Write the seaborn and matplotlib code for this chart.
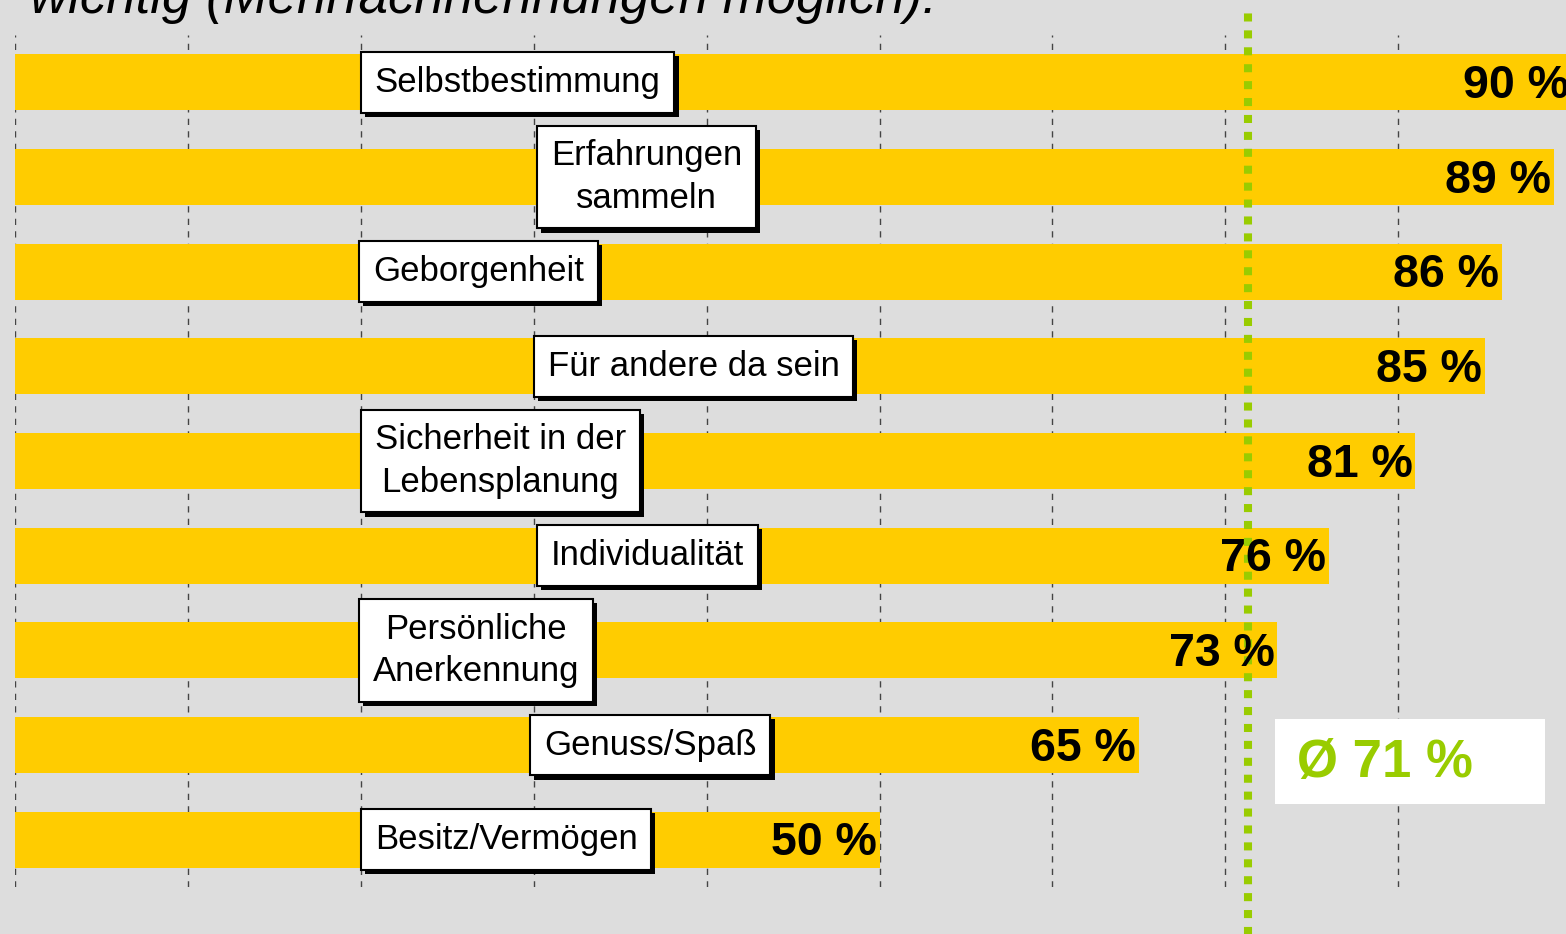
import matplotlib
matplotlib.use("Agg")
import matplotlib.pyplot as plt
import matplotlib.patheffects as pe
from matplotlib.patches import Rectangle
import seaborn as sns
import pandas as pd

# Data
categories = ["Selbstbestimmung", "Erfahrungen\nsammeln", "Geborgenheit",
              "Für andere da sein", "Sicherheit in der\nLebensplanung",
              "Individualität", "Persönliche\nAnerkennung", "Genuss/Spaß",
              "Besitz/Vermögen"]
values = [90, 89, 86, 85, 81, 76, 73, 65, 50]
label_x = [20, 30.2, 19.9, 30, 20, 30.2, 19.9, 29.8, 20]
avg_label = "Ø 71 %"
avg_line = 71.3
title_text = "wichtig (Mehrfachnennungen möglich):"

df = pd.DataFrame({"cat": categories, "val": values})

sns.set_style("white")
plt.rcParams["font.family"] = ["Liberation Sans", "DejaVu Sans"]

bg = "#DDDDDD"
fig = plt.figure(figsize=(15.66, 9.34), dpi=100, facecolor=bg)
ax = fig.add_axes([15 / 1566, 1 - 887 / 934, 1 - 15 / 1566, 852 / 934])
ax.set_facecolor(bg)

sns.barplot(data=df, x="val", y="cat", orient="h", color="#FFCC00",
            saturation=1, width=0.59, linewidth=0, edgecolor="none",
            ax=ax, zorder=2)

ax.set_xlim(0, (1566 - 15) / 17.29)
ax.set_ylim(len(categories) - 0.5, -0.5)
ax.set_xticks(range(0, 90, 10))
ax.grid(axis="x", color="#444444", linestyle=(0, (4.5, 4.5)), linewidth=1.0, zorder=0)
ax.grid(axis="y", visible=False)
ax.set_axisbelow(True)
ax.set_xlabel("")
ax.set_ylabel("")
ax.set_xticklabels([])
ax.set_yticklabels([])
ax.tick_params(left=False, bottom=False)
for s in ax.spines.values():
    s.set_visible(False)

# value labels at the bar ends
for i, v in enumerate(values):
    ax.text(v - 0.15, i + 0.04, f"{v} %", ha="right", va="center",
            fontsize=33.5, fontweight="bold", color="black", zorder=4)

# category labels in white boxes with shadow
for i, (lab, lx) in enumerate(zip(categories, label_x)):
    t = ax.text(lx + 0.8, i, lab, ha="left", va="center", multialignment="center",
                fontsize=25, color="black", linespacing=1.35, zorder=5,
                bbox=dict(boxstyle="square,pad=0.4", facecolor="white",
                          edgecolor="black", linewidth=1.5))
    t.get_bbox_patch().set_path_effects([
        pe.SimplePatchShadow(offset=(3, -3), shadow_rgbFace="black", alpha=1),
        pe.Normal()])

# average line
ax.axvline(avg_line, ymin=-0.06, ymax=1.035, color="#99CC00", linewidth=5.8,
           linestyle=(0, (1, 1.1)), clip_on=False, zorder=3)

# average label box
ax.add_patch(Rectangle((72.9, 6.73), 15.6, 0.89, facecolor="white",
                       edgecolor="none", zorder=6))
ax.text(74.15, 7.19, avg_label, ha="left", va="center", fontsize=38,
        fontweight="bold", color="#99CC00", zorder=7)

# cropped title line at the top
fig.text(30 / 1566, 1 - 13 / 934, title_text, ha="left", va="baseline",
         fontsize=38, style="italic", color="black")

fig.savefig("out.png", dpi=100, facecolor=bg)
